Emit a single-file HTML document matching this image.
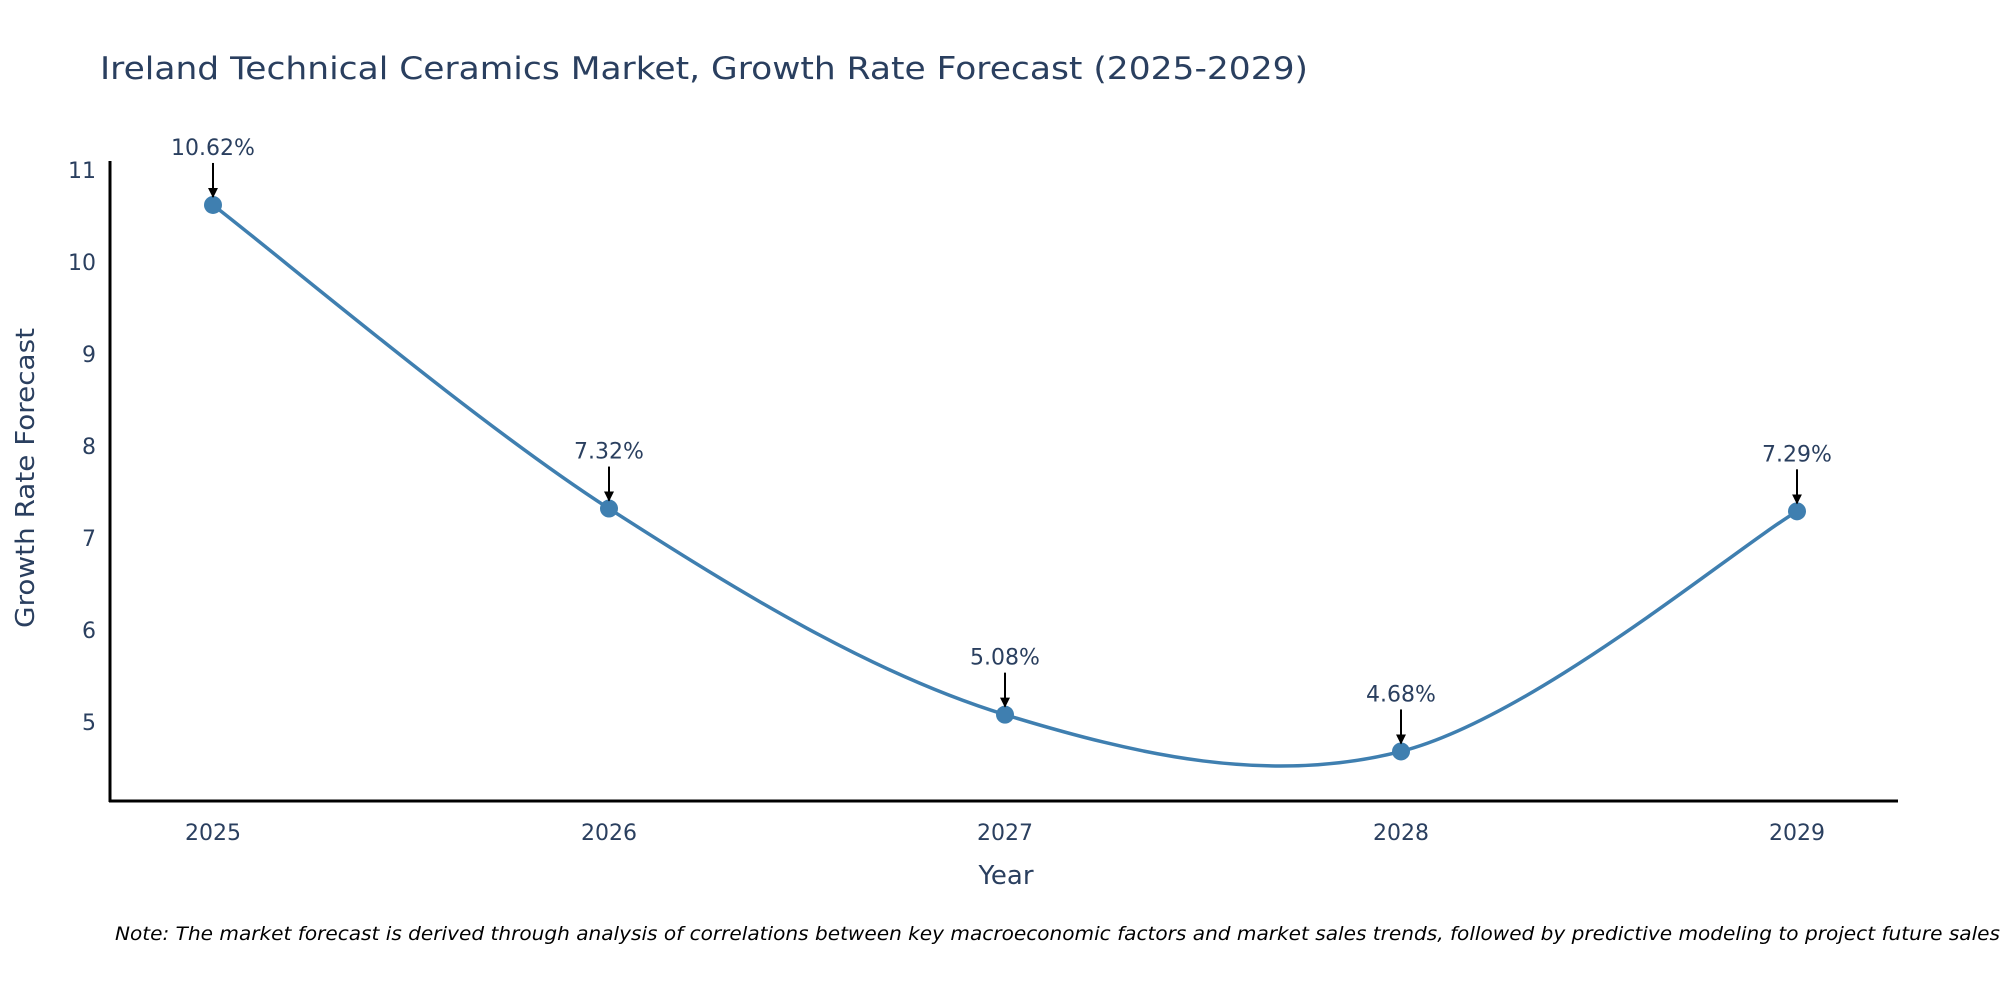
<!DOCTYPE html>
<html><head><meta charset="utf-8"><style>
html,body{margin:0;padding:0;background:#fff;}
svg{display:block;font-family:"DejaVu Sans","Liberation Sans",sans-serif;}
</style></head><body>
<svg id="chart" width="2000" height="1000" viewBox="0 0 2000 1000" xmlns="http://www.w3.org/2000/svg">
<defs><marker id="arr" viewBox="0 0 10 10" refX="9" refY="5" markerWidth="5" markerHeight="5" orient="auto"><path d="M0,0 L10,5 L0,10 z" fill="#000"/></marker></defs>
<text x="100" y="79" font-size="31" fill="#2a3f5f" textLength="1208" lengthAdjust="spacingAndGlyphs">Ireland Technical Ceramics Market, Growth Rate Forecast (2025-2029)</text>
<g id="plot"></g>
<text transform="translate(34,478) rotate(-90)" text-anchor="middle" font-size="26" fill="#2a3f5f" textLength="300" lengthAdjust="spacingAndGlyphs">Growth Rate Forecast</text>
<text x="1006" y="884" text-anchor="middle" font-size="26" fill="#2a3f5f">Year</text>
<text x="115" y="940" font-size="19" font-style="italic" fill="#000" textLength="1885" lengthAdjust="spacingAndGlyphs">Note: The market forecast is derived through analysis of correlations between key macroeconomic factors and market sales trends, followed by predictive modeling to project future sales</text>
</svg>
<script>
const years = ['2025','2026','2027','2028','2029'];
const values = [10.62, 7.32, 5.08, 4.68, 7.29];
const labels = ['10.62%','7.32%','5.08%','4.68%','7.29%'];
const yTicks = [5,6,7,8,9,10,11];

const NS='http://www.w3.org/2000/svg';
const g=document.getElementById('plot');
const X0=213, DX=396;
function xs(i){return X0+i*DX;}
function ys(v){return 722-(v-5)*92;}
function mk(t,a){const e=document.createElementNS(NS,t);for(const k in a)e.setAttribute(k,a[k]);g.appendChild(e);return e;}

const yAx=mk('line',{x1:110,y1:161,x2:110,y2:802,stroke:'#000','stroke-width':3});


const xAx=mk('line',{x1:109,y1:801,x2:1898,y2:801,stroke:'#000','stroke-width':3});



yTicks.forEach(v=>{
  const t=mk('text',{x:96,y:ys(v)+8,'text-anchor':'end','font-size':22,fill:'#2a3f5f'});
  t.textContent=v;
  
  
});
years.forEach((y,i)=>{
  const t=mk('text',{x:xs(i),y:840,'text-anchor':'middle','font-size':22,fill:'#2a3f5f'});
  t.textContent=y;
  
  
});

const P=values.map((v,i)=>[xs(i),ys(v)]);
let d='M'+P[0][0]+','+P[0][1];
for(let i=0;i<P.length-1;i++){
  const p0=P[Math.max(0,i-1)],p1=P[i],p2=P[i+1],p3=P[Math.min(P.length-1,i+2)];
  const k=1/6;
  const c1=[p1[0]+(p2[0]-p0[0])*k,p1[1]+(p2[1]-p0[1])*k];
  const c2=[p2[0]-(p3[0]-p1[0])*k,p2[1]-(p3[1]-p1[1])*k];
  d+=' C'+c1+' '+c2+' '+p2;
}
const line=mk('path',{d:d,fill:'none',stroke:'#3f7fb0','stroke-width':3.5});



P.forEach((p,i)=>{
  const c=mk('circle',{cx:p[0],cy:p[1],r:9,fill:'#3f7fb0'});
  
  
  const a=mk('line',{x1:p[0],y1:p[1]-42,x2:p[0],y2:p[1]-8,stroke:'#000','stroke-width':2,'marker-end':'url(#arr)'});
  
  
  const t=mk('text',{x:p[0],y:p[1]-50,'text-anchor':'middle','font-size':22,fill:'#2a3f5f'});
  t.textContent=labels[i];
  
  
});
</script>
</body></html>
